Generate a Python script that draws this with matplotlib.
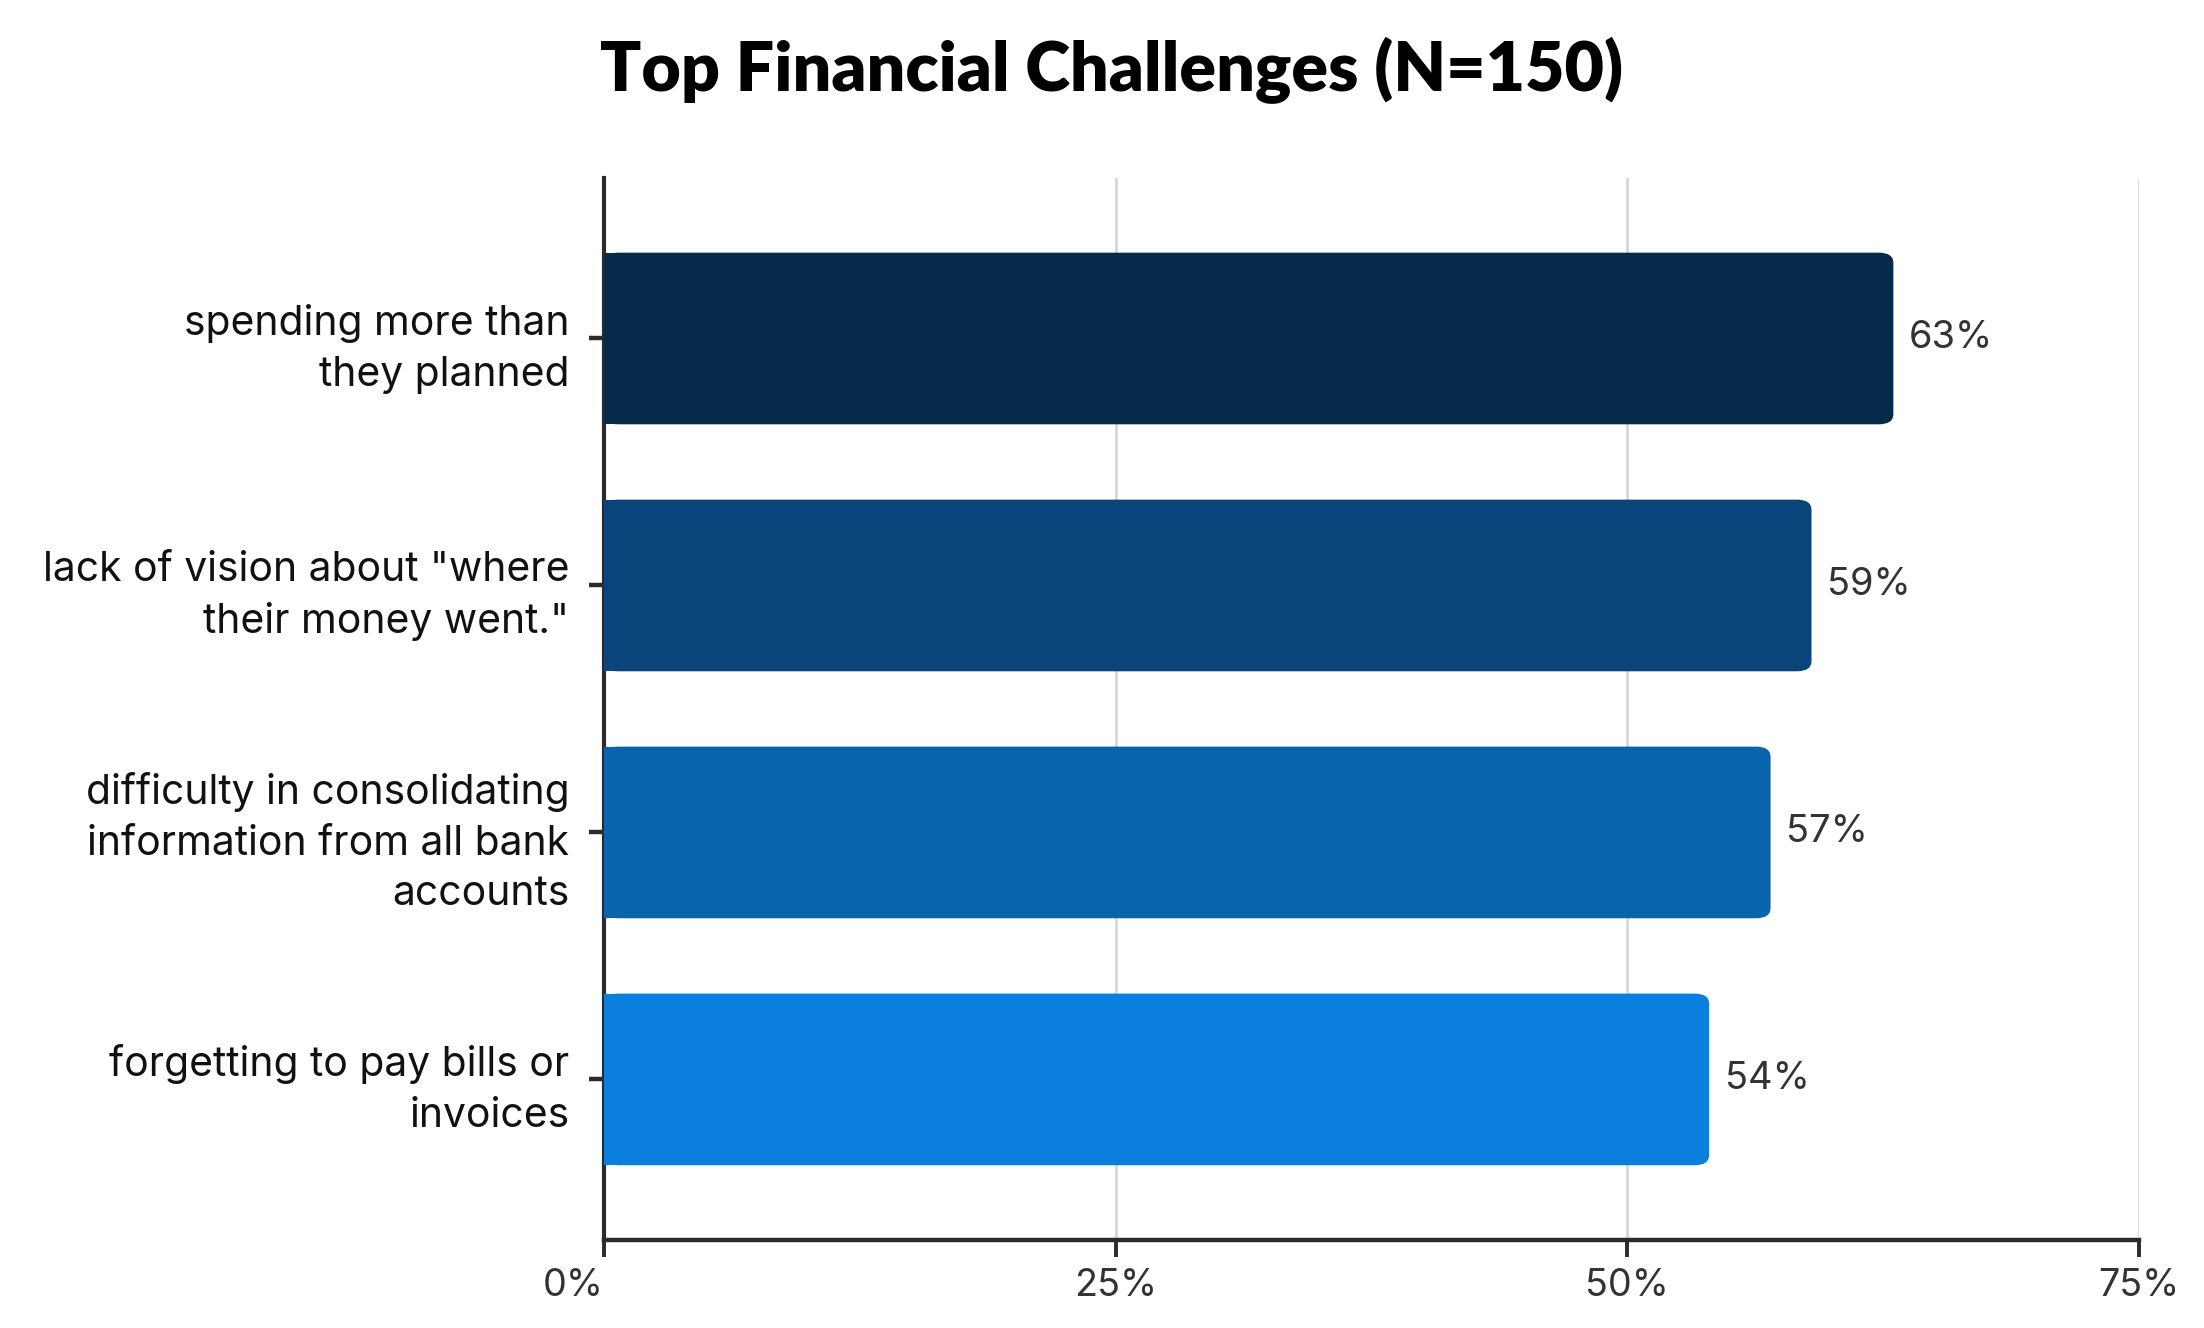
import matplotlib
matplotlib.use("Agg")
import matplotlib.pyplot as plt
from matplotlib.patches import FancyBboxPatch

# data
categories = [
    "spending more than\nthey planned",
    "lack of vision about \"where\ntheir money went.\"",
    "difficulty in consolidating\ninformation from all bank\naccounts",
    "forgetting to pay bills or\ninvoices",
]
values = [63, 59, 57, 54]
colors = ["#062a4a", "#09457a", "#0a64ad", "#0b7fde"]
xticks = [0, 25, 50, 75]

plt.rcParams["font.family"] = ["Inter", "DejaVu Sans"]

fig = plt.figure(figsize=(11.02, 6.64), dpi=200)
ax = fig.add_axes([0.274, 0.0663, 0.6965, 0.7997])

bar_h = 0.695
ypos = list(range(len(categories)))
for y, v, c in zip(ypos, values, colors):
    patch = FancyBboxPatch((0, y - bar_h / 2), v, bar_h,
                           boxstyle="round,pad=0,rounding_size=0.7",
                           mutation_aspect=0.06,
                           facecolor=c, edgecolor="none", zorder=3)
    ax.add_patch(patch)
    # square off the left end
    ax.barh(y, 1, height=bar_h, left=0, color=c, zorder=3)
    ax.text(v + 0.75, y, f"{v}%", va="center", ha="left",
            fontsize=13.7, color="#333333")

ax.set_xlim(0, 75)
ax.set_ylim(len(categories) - 0.35, -0.65)
ax.set_yticks(ypos)
ax.set_yticklabels(categories, fontsize=14.7, color="#111111", linespacing=1.42)
ax.set_xticks(xticks)
xlabels = ax.set_xticklabels([f"{t}%" for t in xticks], fontsize=13.6, color="#333333")
xlabels[0].set_ha("right")

ax.grid(axis="x", color="#d2d2d2", linewidth=0.9, zorder=0)
ax.set_axisbelow(True)
for s in ["top", "right"]:
    ax.spines[s].set_visible(False)
ax.spines["left"].set_color("#2b2b2b")
ax.spines["left"].set_linewidth(1.5)
ax.spines["bottom"].set_color("#2b2b2b")
ax.spines["bottom"].set_linewidth(1.6)
ax.tick_params(axis="y", length=5.5, width=1.6, color="#2b2b2b", pad=7)
ax.tick_params(axis="x", length=6, width=1.4, color="#2b2b2b", pad=4)

fig.text(0.5045, 0.947, "Top Financial Challenges (N=150)", ha="center", va="center",
         fontsize=24.5, fontweight="heavy", family=["Lato", "DejaVu Sans"], color="#000000")

fig.savefig("out.png", dpi=200)
